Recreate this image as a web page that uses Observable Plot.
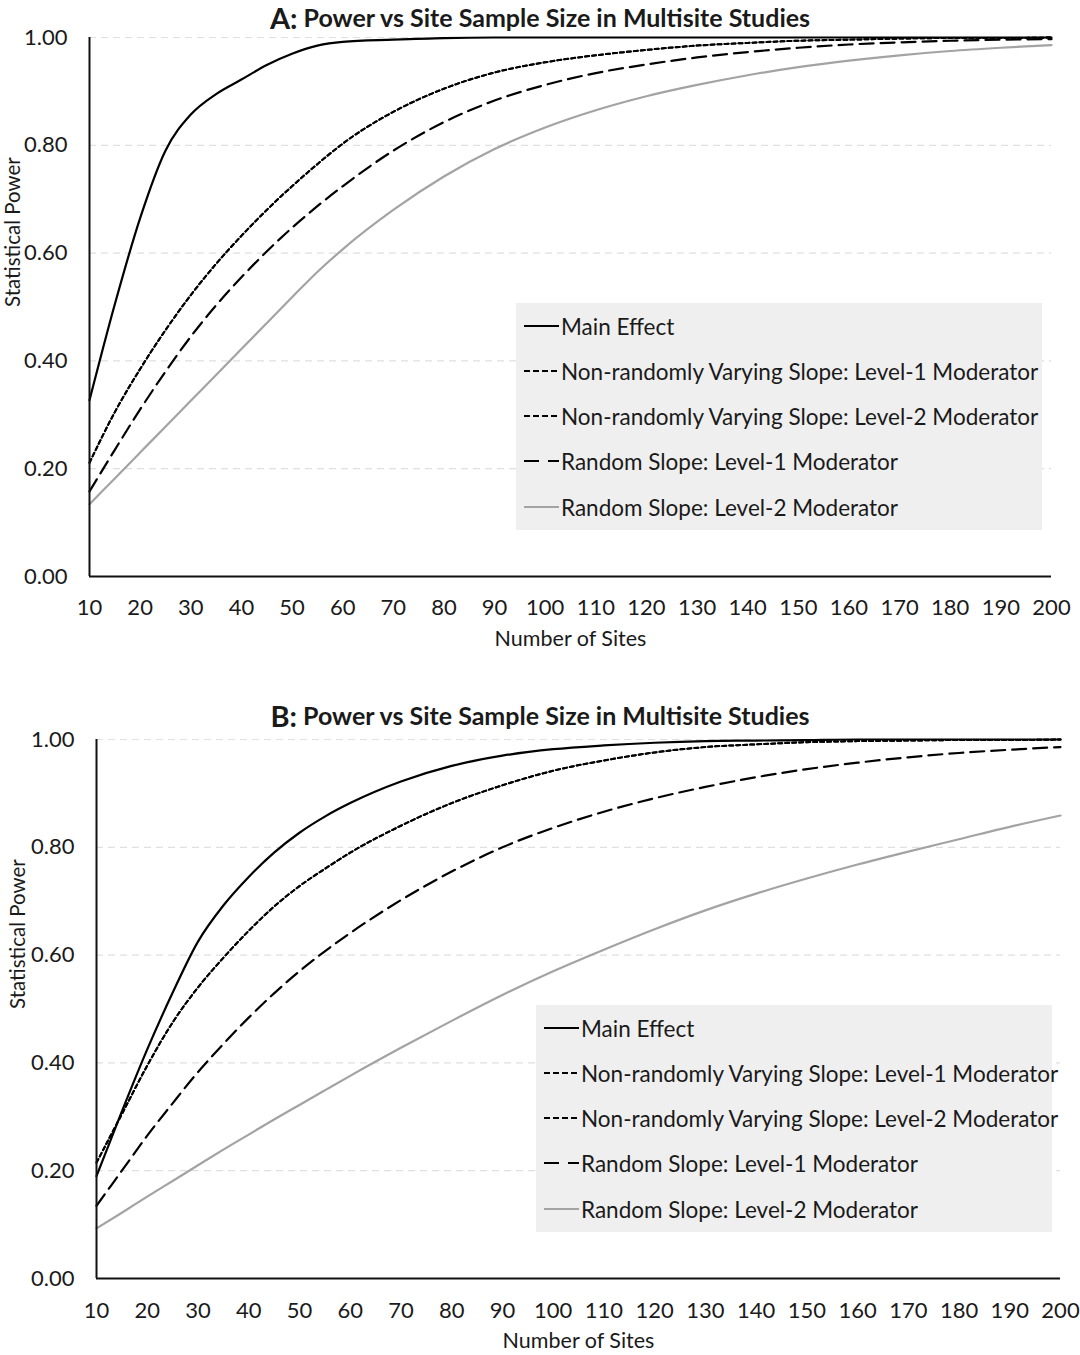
<!DOCTYPE html>
<html><head><meta charset="utf-8">
<script src="https://cdn.jsdelivr.net/npm/d3@7"></script>
<script src="https://cdn.jsdelivr.net/npm/@observablehq/plot@0.6"></script>
<style>
body{margin:0;background:#fff;font-family:Lato,"Open Sans",sans-serif;color:#1a1a1a;}
#page{position:relative;width:1080px;height:1355px;overflow:hidden;background:#fff;}
.title{position:absolute;left:0;width:1080px;height:34px;display:flex;align-items:center;justify-content:center;font-weight:bold;font-size:25px;z-index:3;white-space:nowrap;}
.title .lab{font-size:29px;margin-right:6px;}
.panel{position:absolute;left:0;z-index:1;}
.panel svg{background:transparent;}
.legend{position:absolute;background:#efefef;z-index:2;}
.legend .row{position:absolute;left:8px;height:28px;display:flex;align-items:center;font-size:22.5px;white-space:nowrap;}
.legend svg{display:block;margin-right:2px;}
</style></head><body><div id="page"></div>
<script>
// ---- data ----
const sites = [10,15,20,25,30,35,40,45,50,55,60,70,80,90,100,110,120,130,140,150,160,170,180,190,200];
const xTicks = [10,20,30,40,50,60,70,80,90,100,110,120,130,140,150,160,170,180,190,200];
const yTicks = [0,0.2,0.4,0.6,0.8,1.0];
const seriesNames = [
  "Main Effect",
  "Non-randomly Varying Slope: Level-1 Moderator",
  "Non-randomly Varying Slope: Level-2 Moderator",
  "Random Slope: Level-1 Moderator",
  "Random Slope: Level-2 Moderator"
];
// Panel A
const mainA     = [0.327,0.505,0.665,0.79,0.857,0.895,0.922,0.949,0.970,0.985,0.992,0.996,0.999,1,1,1,1,1,1,1,1,1,1,1,1];
const nonRand1A = [0.211,0.305,0.385,0.457,0.522,0.58,0.632,0.68,0.724,0.765,0.803,0.862,0.905,0.935,0.954,0.967,0.977,0.985,0.99,0.994,0.996,0.998,0.999,0.999,1.0];
const nonRand2A = [0.211,0.305,0.385,0.457,0.522,0.58,0.632,0.68,0.724,0.765,0.803,0.862,0.905,0.935,0.954,0.967,0.977,0.985,0.99,0.994,0.996,0.998,0.999,0.999,1.0];
const rand1A    = [0.158,0.235,0.31,0.38,0.445,0.503,0.555,0.603,0.647,0.687,0.724,0.79,0.843,0.883,0.912,0.934,0.95,0.963,0.973,0.981,0.987,0.991,0.994,0.996,0.997];
const rand2A    = [0.134,0.182,0.23,0.278,0.326,0.374,0.422,0.47,0.518,0.565,0.607,0.68,0.742,0.793,0.833,0.865,0.891,0.912,0.93,0.945,0.957,0.967,0.975,0.981,0.986];
// Panel B
const mainB     = [0.19,0.31,0.425,0.53,0.625,0.692,0.745,0.79,0.827,0.857,0.882,0.922,0.951,0.97,0.982,0.989,0.994,0.997,0.998,0.999,1,1,1,1,1];
const nonRand1B = [0.215,0.305,0.395,0.475,0.54,0.595,0.645,0.69,0.728,0.76,0.79,0.84,0.882,0.915,0.942,0.961,0.976,0.986,0.991,0.995,0.997,0.998,0.999,0.999,1.0];
const nonRand2B = [0.215,0.305,0.395,0.475,0.54,0.595,0.645,0.69,0.728,0.76,0.79,0.84,0.882,0.915,0.942,0.961,0.976,0.986,0.991,0.995,0.997,0.998,0.999,0.999,1.0];
const rand1B    = [0.135,0.20,0.265,0.325,0.383,0.435,0.484,0.529,0.57,0.607,0.641,0.702,0.755,0.80,0.836,0.866,0.891,0.912,0.93,0.945,0.957,0.967,0.975,0.981,0.986];
const rand2B    = [0.093,0.122,0.152,0.181,0.21,0.239,0.267,0.295,0.322,0.349,0.376,0.428,0.478,0.526,0.57,0.61,0.648,0.683,0.714,0.742,0.768,0.792,0.815,0.838,0.859];

const styles = [
  {stroke:"#000", dash:null, width:2.2},
  {stroke:"#000", dash:"4,3", width:2},
  {stroke:"#000", dash:"4,3", width:2},
  {stroke:"#000", dash:"14,7", width:2.2},
  {stroke:"#a3a3a3", dash:null, width:2.2}
];
const legendDash = [null,"6,3","6,3","15,9",null];

const page = document.getElementById("page");

function addTitle(letter, top){
  const d = document.createElement("div");
  d.className = "title";
  d.style.top = top + "px";
  d.innerHTML = '<span class="lab">' + letter + ':</span><span>Power vs Site Sample Size in Multisite Studies</span>';
  page.appendChild(d);
}

function addPanel(values, top, height, m, ylabDx, xlabDy, xPad){
  const marks = [
    Plot.ruleY(yTicks.slice(1), {stroke:"#e0e0e0", strokeWidth:1.2, strokeDasharray:"7,5"}),
    Plot.axisX({ticks:xTicks, tickSize:0, tickPadding:xPad, label:null, tickFormat:d3.format("d")}),
    Plot.axisY({ticks:yTicks, tickSize:0, tickPadding:22, label:null, tickFormat:d3.format(".2f")}),
    Plot.text(["Number of Sites"], {frameAnchor:"bottom", dy:xlabDy, fontSize:21.5}),
    Plot.text(["Statistical Power"], {frameAnchor:"left", dx:ylabDx, rotate:-90, fontSize:20.5})
  ];
  values.forEach((vals, k) => {
    const st = styles[k];
    const data = sites.map((x, i) => ({x, y: vals[i], key: seriesNames[k]}));
    marks.push(Plot.line(data, {x:"x", y:"y", stroke:st.stroke, strokeWidth:st.width,
      strokeDasharray: st.dash || undefined, curve:"monotone-x"}));
  });
  marks.push(Plot.ruleX([xTicks[0]], {y1:yTicks[0], y2:yTicks[yTicks.length-1], stroke:"#111", strokeWidth:2}));
  marks.push(Plot.ruleY([yTicks[0]], {stroke:"#111", strokeWidth:2}));
  const chart = Plot.plot({
    width:1080, height,
    marginTop:m[0], marginRight:m[1], marginBottom:m[2], marginLeft:m[3],
    x:{domain:[10,200]},
    y:{domain:[0,1]},
    style:{fontFamily:"Lato, 'Open Sans', sans-serif", fontSize:"22px", color:"#1a1a1a", background:"transparent", overflow:"visible"},
    marks
  });
  const wrap = document.createElement("div");
  wrap.className = "panel";
  wrap.style.top = top + "px";
  wrap.appendChild(chart);
  page.appendChild(wrap);
}

function addLegend(left, top, width, height){
  const lg = document.createElement("div");
  lg.className = "legend";
  Object.assign(lg.style, {left:left+"px", top:top+"px", width:width+"px", height:height+"px"});
  const rowCenters = [23,68,113,158,204];
  seriesNames.forEach((name, k) => {
    const r = document.createElement("div");
    r.className = "row";
    r.style.top = (rowCenters[k]-14) + "px";
    const st = styles[k];
    const dash = legendDash[k] ? ' stroke-dasharray="'+legendDash[k]+'"' : '';
    r.innerHTML = '<svg width="35" height="6"><line x1="0" y1="3" x2="35" y2="3" stroke="'+st.stroke+'" stroke-width="2.2"'+dash+'/></svg><span>'+name+'</span>';
    lg.appendChild(r);
  });
  page.appendChild(lg);
}

addTitle("A", 0);
addPanel([mainA, nonRand1A, nonRand2A, rand1A, rand2A], 24, 636, [13,29,84,89], -76, 69, 23);
addLegend(516, 303, 526, 227);

addTitle("B", 698);
addPanel([mainB, nonRand1B, nonRand2B, rand1B, rand2B], 726, 629, [13,20,77,96], -78, 69, 24);
addLegend(536, 1005, 516, 227);
</script>
</body></html>
